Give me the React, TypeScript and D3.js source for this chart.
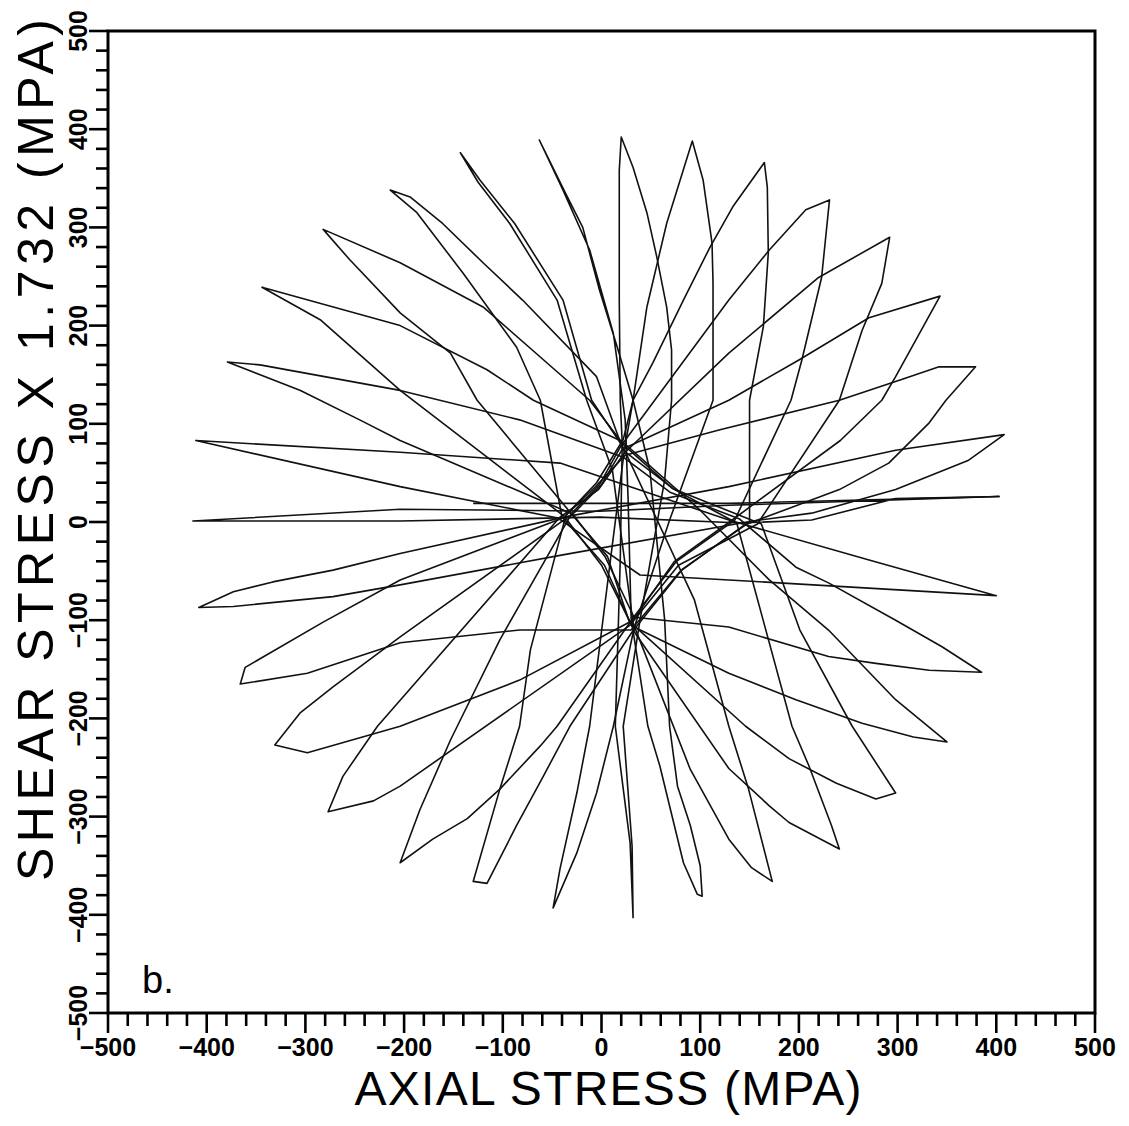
import React from "react";
import * as d3 from "d3";

// Axis extents and tick values (MPa)
const X_DOMAIN: [number, number] = [-500, 500];
const Y_DOMAIN: [number, number] = [-500, 500];
const MINOR_TICKS = d3.range(-500, 501, 20);
const TICK_LABELS = [-500, -400, -300, -200, -100, 0, 100, 200, 300, 400, 500];

// Stress-path loops, one per loading direction: [axial, shear*1.732] in MPa
const lens01 = [[-143, 376], [-123, 348], [-88, 304], [-39, 226], [-10, 124], [22, 76], [94, -79], [129, -208], [149, -272], [173, -366], [152, -352], [129, -323], [90, -252], [32, -103], [11, 53], [-15, 124], [-45, 226], [-93, 304], [-125, 346]];
const lens02 = [[-63, 389], [-39, 338], [-12, 277], [12, 192], [24, 104], [27, 22], [30, -98], [47, -208], [59, -248], [83, -347], [97, -379], [102, -381], [100, -350], [90, -309], [77, -269], [69, -208], [64, -100], [49, 53], [32, 124], [16, 178], [-2, 236], [-19, 300], [-37, 336]];
const lens03 = [[20, 392], [18, 358], [18, 226], [19, 124], [21, 80], [19, -39], [14, -208], [29, -327], [32, -403], [31, -330], [22, -208], [39, -100], [64, 43], [71, 124], [71, 175], [66, 219], [56, 270], [46, 315], [32, 361]];
const lens04 = [[92, 388], [66, 304], [46, 219], [32, 124], [23, 72], [9, -39], [-12, -208], [-25, -276], [-42, -353], [-49, -393], [-25, -337], [-5, -276], [12, -208], [33, -108], [69, 2], [113, 124], [113, 243], [112, 284], [103, 348]];
const lens05 = [[165, 366], [133, 321], [110, 280], [83, 226], [52, 162], [32, 124], [22, 84], [-5, 40], [-36, 7], [-72, -130], [-83, -208], [-103, -272], [-130, -366], [-116, -368], [-86, -309], [-59, -259], [-32, -208], [31, -112], [82, -48], [150, 0], [150, 124], [164, 199], [169, 274], [168, 341]];
const lens06 = [[231, 328], [207, 318], [170, 277], [129, 226], [20, 78], [-2, 38], [-30, 9], [-103, -120], [-153, -222], [-184, -293], [-204, -347], [-171, -323], [-136, -302], [-103, -272], [-62, -228], [-45, -208], [34, -95], [76, -40], [135, 2], [192, 124], [203, 165], [223, 249]];
const lens07 = [[292, 290], [220, 249], [129, 172], [23, 70], [-3, 33], [-42, 5], [-227, -208], [-262, -259], [-277, -295], [-231, -284], [-204, -269], [29, -105], [78, -44], [158, -2], [241, 124], [264, 195], [284, 243]];
const lens08 = [[343, 230], [271, 208], [200, 165], [129, 124], [21, 74], [0, 38], [-27, 10], [-204, -117], [-272, -168], [-305, -194], [-331, -227], [-298, -235], [-204, -208], [-83, -161], [32, -100], [74, -40], [131, 1], [242, 83], [284, 124], [298, 148]];
const lens09 = [[379, 158], [342, 158], [304, 145], [241, 124], [120, 94], [24, 68], [-6, 36], [-39, 4], [-204, -59], [-282, -102], [-361, -148], [-366, -165], [-298, -154], [-204, -123], [-83, -110], [30, -110], [80, -50], [145, -3], [241, 33], [291, 60], [332, 101], [349, 124]];
const lens10 = [[408, 89], [298, 73], [129, 36], [-33, 6], [-204, -32], [-272, -49], [-333, -61], [-373, -71], [-408, -87], [-373, -86], [-272, -76], [-204, -64], [-42, -34], [153, 1], [213, 9], [298, 33], [372, 63]];
const lens11 = [[403, 26], [298, 24], [213, 2], [142, -1], [-2, 5], [-204, 1], [-414, 1], [-204, 13], [-2, 11], [129, 17]];
const lens12 = [[-411, 83], [-204, 71], [-42, 60], [129, 2], [272, -39], [400, -75], [129, -59], [39, -54], [-44, 4], [-204, 36]];
const lens13 = [[-379, 163], [-346, 160], [-204, 134], [-83, 104], [22, 66], [70, 30], [140, 3], [197, -46], [230, -62], [298, -100], [345, -127], [385, -153], [332, -151], [278, -144], [230, -137], [129, -107], [33, -97], [4, -36], [-29, 8], [-204, 83], [-245, 104], [-305, 134]];
const lens14 = [[-344, 239], [-204, 200], [-116, 155], [-69, 124], [21, 82], [100, 12], [170, -59], [230, -110], [298, -181], [350, -224], [316, -219], [264, -205], [197, -181], [129, -154], [31, -106], [0, -44], [-38, 6], [-204, 134], [-285, 206]];
const lens15 = [[-282, 298], [-204, 264], [-120, 219], [-12, 124], [23, 78], [72, 34], [162, -2], [201, -110], [254, -208], [298, -276], [278, -282], [238, -266], [190, -241], [146, -208], [28, -101], [6, -35], [-31, 9], [-126, 124], [-153, 172], [-204, 213], [-255, 267]];
const lens16 = [[-214, 338], [-194, 331], [-161, 304], [-120, 264], [-80, 226], [-5, 148], [22, 73], [74, 33], [137, -1], [193, -208], [210, -248], [233, -309], [241, -333], [190, -306], [170, -289], [129, -251], [34, -113], [3, -44], [-40, 5], [-62, 124], [-86, 178], [-140, 253], [-187, 315]];

// First loading ramp (open path)
const initialRamp = [[-130, 19], [129, 19], [403, 26]];

const LOOPS = [lens01, lens02, lens03, lens04, lens05, lens06, lens07, lens08, lens09, lens10, lens11, lens12, lens13, lens14, lens15, lens16];

const FONT = "'Liberation Sans', Arial, Helvetica, sans-serif";

export default function App() {
  const left = 108, right = 1095, top = 31, bottom = 1013;
  const x = d3.scaleLinear().domain(X_DOMAIN).range([left, right]);
  const y = d3.scaleLinear().domain(Y_DOMAIN).range([bottom, top]);

  const closedLine = d3
    .line<number[]>()
    .x((d) => x(d[0]))
    .y((d) => y(d[1]))
    .curve(d3.curveLinearClosed);
  const openLine = d3
    .line<number[]>()
    .x((d) => x(d[0]))
    .y((d) => y(d[1]));

  const fmt = d3.format("d");
  const isMajor = (v: number) => v % 100 === 0;

  return (
    <svg
      width={1129}
      height={1126}
      viewBox="0 0 1129 1126"
      style={{ position: "absolute", left: 0, top: 0, background: "#fff" }}
    >
      <rect x={0} y={0} width={1129} height={1126} fill="#fff" />

      {/* stress paths */}
      <g fill="none" stroke="#111" strokeWidth={1.6} strokeLinejoin="round">
        {LOOPS.map((pts, i) => (
          <path key={i} d={closedLine(pts as number[][]) || ""} />
        ))}
        <path d={openLine(initialRamp as number[][]) || ""} />
      </g>

      {/* frame */}
      <rect
        x={left}
        y={top}
        width={right - left}
        height={bottom - top}
        fill="none"
        stroke="#000"
        strokeWidth={3}
      />

      {/* ticks on the bottom and left axes */}
      <g stroke="#000" strokeWidth={2.6}>
        {MINOR_TICKS.map((v) => (
          <line
            key={"xt" + v}
            x1={x(v)}
            x2={x(v)}
            y1={bottom}
            y2={bottom + (isMajor(v) ? 20 : 13)}
          />
        ))}
        {MINOR_TICKS.map((v) => (
          <line
            key={"yt" + v}
            x1={left}
            x2={left - (isMajor(v) ? 19 : 12)}
            y1={y(v)}
            y2={y(v)}
          />
        ))}
      </g>

      {/* tick labels */}
      <g fontFamily={FONT} fontWeight="bold" fontSize={25} fill="#000">
        {TICK_LABELS.map((v) => (
          <text key={"xl" + v} x={x(v)} y={1056} textAnchor="middle">
            {fmt(v)}
          </text>
        ))}
        {TICK_LABELS.map((v) => (
          <text
            key={"yl" + v}
            transform={`translate(87,${y(v)}) rotate(-90)`}
            textAnchor="middle"
          >
            {fmt(v)}
          </text>
        ))}
      </g>

      {/* axis titles */}
      <text
        x={608}
        y={1105}
        textAnchor="middle"
        fontFamily={FONT}
        fontSize={48}
        textLength={507}
        lengthAdjust="spacing"
        fill="#000"
      >
        AXIAL STRESS (MPA)
      </text>
      <text
        transform="translate(53,450) rotate(-90)"
        textAnchor="middle"
        fontFamily={FONT}
        fontSize={50}
        textLength={862}
        lengthAdjust="spacing"
        fill="#000"
      >
        SHEAR STRESS X 1.732 (MPA)
      </text>

      {/* panel tag */}
      <text x={142} y={993} fontFamily={FONT} fontSize={38} fill="#000">
        b.
      </text>
    </svg>
  );
}
